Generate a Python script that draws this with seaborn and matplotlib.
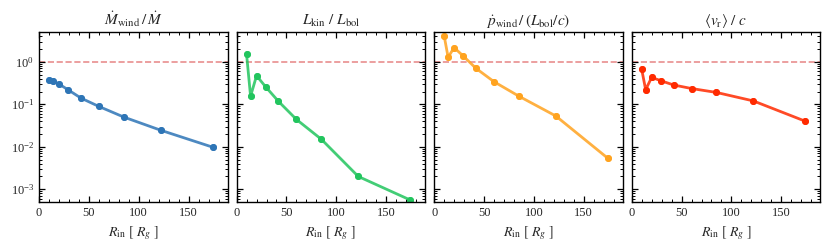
import numpy as np
import pandas as pd
import matplotlib
matplotlib.use("Agg")
import matplotlib.pyplot as plt
import matplotlib.ticker as mticker
import seaborn as sns

# inner radius of the disc wind launching region [R_g]
r_in = [10, 14, 20, 29, 42, 60, 85, 122, 174]

mdot_ratio = [0.38, 0.35, 0.30, 0.22, 0.14, 0.089, 0.050, 0.0245, 0.0098]
lkin_ratio = [1.5, 0.155, 0.47, 0.26, 0.117, 0.044, 0.015, 0.0020, 0.00056]
pdot_ratio = [4.1, 1.28, 2.16, 1.38, 0.70, 0.34, 0.155, 0.053, 0.0054]
vr_ratio = [0.67, 0.22, 0.43, 0.36, 0.285, 0.235, 0.19, 0.12, 0.040]

titles = [r"$\dot{M}_{\rm wind}\,/\,\dot{M}$",
          r"$L_{\rm kin}\ /\ L_{\rm bol}$",
          r"$\dot{p}_{\rm wind}\,/\,(L_{\rm bol}/c)$",
          r"$\langle v_{\rm r}\rangle\ /\ c$"]
colors = ["#2e75b6", "#22c55e", "#ffa31f", "#ff2a00"]

sns.set_style("ticks", {"xtick.direction": "in", "ytick.direction": "in",
                        "xtick.top": True, "ytick.right": True,
                        "axes.edgecolor": "black"})
plt.rcParams["font.family"] = ["Liberation Serif", "DejaVu Serif"]
plt.rcParams["mathtext.fontset"] = "stix"
plt.rcParams["xtick.major.size"] = 4
plt.rcParams["ytick.major.size"] = 4
plt.rcParams["xtick.minor.size"] = 2.2
plt.rcParams["ytick.minor.size"] = 2.2

fig, axes = plt.subplots(1, 4, figsize=(8.31, 2.47), dpi=100, sharey=True)
fig.subplots_adjust(left=0.047, right=0.987, top=0.870, bottom=0.182, wspace=0.048)

series = [mdot_ratio, lkin_ratio, pdot_ratio, vr_ratio]
for ax, vals, col, ttl in zip(axes, series, colors, titles):
    df = pd.DataFrame({"r": r_in, "v": vals})
    sns.lineplot(data=df, x="r", y="v", ax=ax, color=col, marker="o",
                 markersize=5, markeredgewidth=0, linewidth=2, alpha=0.85)
    sns.lineplot(data=df, x="r", y="v", ax=ax, color=col, marker="o",
                 markersize=5, markeredgewidth=0, linewidth=0)
    ax.axhline(1.0, color="#e06060", ls="--", lw=1.2, alpha=0.7, zorder=0)
    ax.set_yscale("log")
    ax.set_xlim(0, 189)
    ax.set_ylim(5e-4, 5)
    ax.set_title(ttl, fontsize=11, pad=5)
    ax.set_xlabel(r"$R_{\rm in}\ [\ R_g\ ]$", fontsize=10)
    ax.set_ylabel("")
    ax.set_xticks([0, 50, 100, 150])
    ax.xaxis.set_minor_locator(mticker.MultipleLocator(10))
    ax.yaxis.set_major_locator(mticker.LogLocator(base=10, numticks=10))
    ax.yaxis.set_minor_locator(mticker.LogLocator(base=10, subs=np.arange(2, 10), numticks=10))
    ax.yaxis.set_minor_formatter(mticker.NullFormatter())
    ax.tick_params(which="both", direction="in", top=True, right=True,
                   bottom=True, left=True, labelsize=9, color="black")
    ax.tick_params(which="major", width=0.9)
    ax.tick_params(which="minor", width=0.7)
    for s in ax.spines.values():
        s.set_linewidth(1.0)
        s.set_color("black")

fig.savefig("out.png", dpi=100)
